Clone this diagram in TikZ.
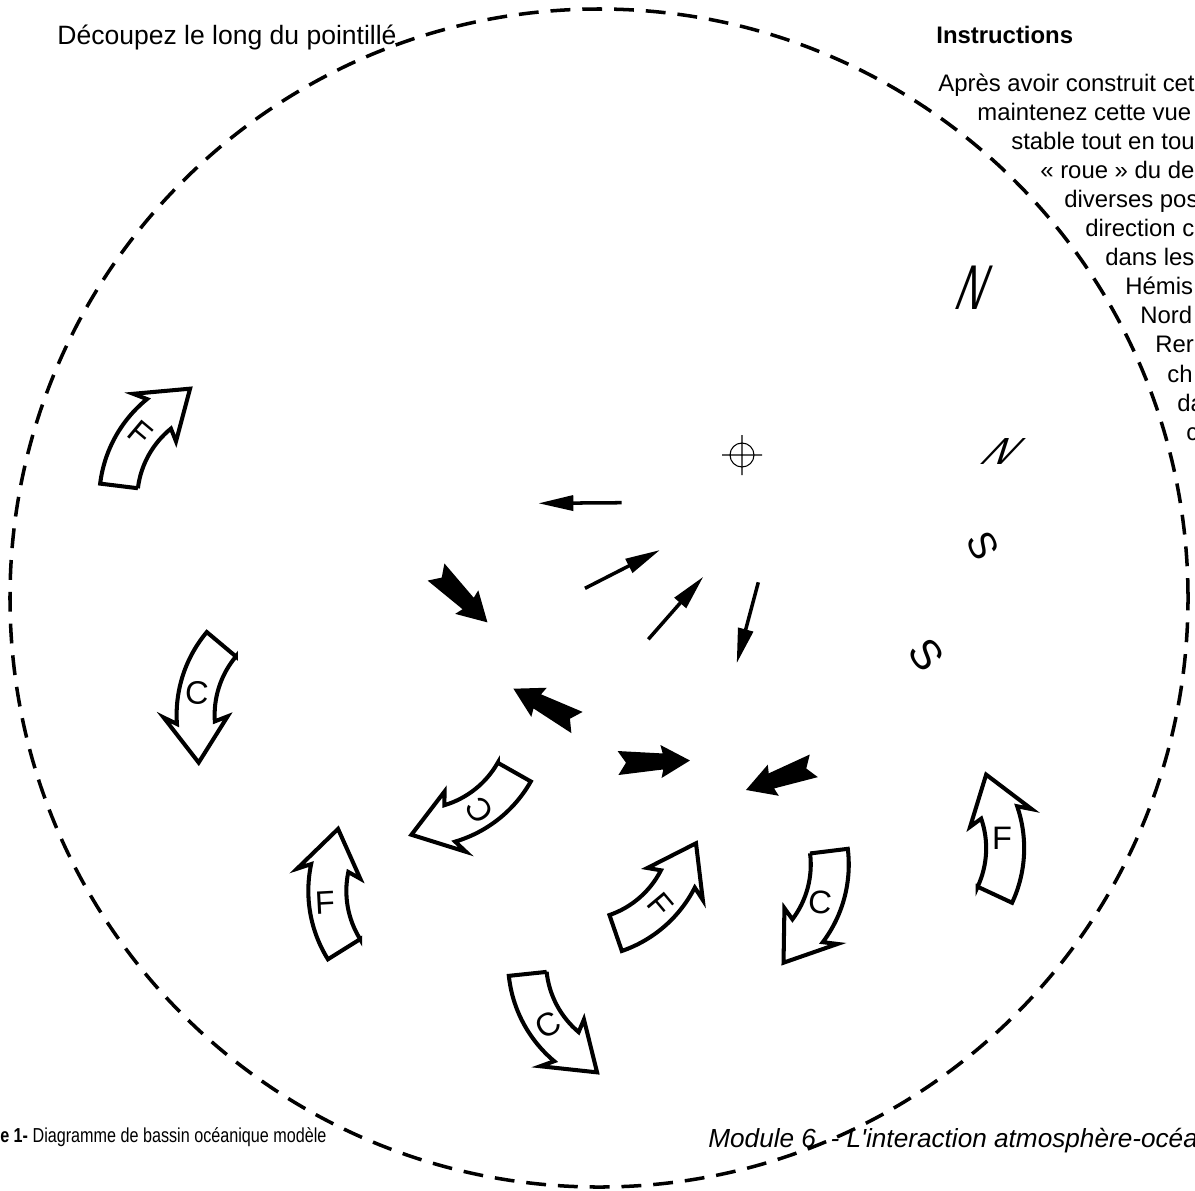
\documentclass[tikz,border=0pt]{standalone}
\usepackage{fontspec}
\setmainfont{Liberation Sans}
\usetikzlibrary{arrows.meta,calc}

\begin{document}
\begin{tikzpicture}[x=0.02cm, y=0.02cm,
cutline/.style={line width=2pt, dash pattern=on 11.3pt off 6.8pt},
bandline/.style={line width=2.3pt, fill=white, line join=miter},
windarrow/.style={line width=2pt, -{Triangle[length=0.7cm, width=0.3cm]}},
gyre/.style={font=\fontsize{18.5}{20}\selectfont, inner sep=0pt},
label/.style={anchor=base west, inner sep=0pt},
instr/.style={label, font=\fontsize{13.6}{16}\selectfont},
curvarrow/.pic={
  \begin{scope}[shift={(-110,0)}]
  \draw[bandline] (-22:91) -- (-22:129) arc[start angle=-22, end angle=22, radius=129]
    -- (19:142) -- ($(22:110)+(112:40)$) -- (19:78) -- (22:91)
    arc[start angle=22, end angle=-22, radius=91] -- cycle;
  \end{scope}},
dart/.pic={
  \fill (0,12) -- (8,0) -- (0,-12) -- (45,-8) -- (43,-16.5) -- (72,0) -- (43,16.5) -- (45,8) -- cycle;}
]
\useasboundingbox (0,0) rectangle (1195,-1190);

\draw[cutline] (599,-598) circle (589);

% texts
\node[label, font=\fontsize{15.1}{17}\selectfont] (cut) at (57,-44) {Découpez le long du pointillé};
\node[label, font=\bfseries\fontsize{13.6}{16}\selectfont] (title) at (936,-43) {Instructions};
\foreach \X/\Txt [count=\k from 0] in {938/Après avoir construit cet, 977/maintenez cette vue,
  1011/stable tout en tou, 1040/« roue » du de, 1064/diverses pos, 1085/direction c,
  1105/dans les, 1125/Hémis, 1140/Nord, 1155/Rer, 1167/ch, 1177/da, 1186/c}
  \node[instr] (line\k) at (\X,{-91-29.1*\k}) {\Txt};
\node[label, font=\fontsize{11.5}{13}\selectfont, xscale=0.8] (fig) at (0,-1142) {\textbf{e 1-} Diagramme de bassin océanique modèle};
\node[label, font=\itshape\fontsize{14.9}{17}\selectfont] (module) at (708,-1147) {Module 6 \ - L\textquotesingle interaction atmosphère-océa};

% centre mark
\coordinate (ctr) at (742,-455);
\draw[line width=0.6pt] (ctr) circle (12) (ctr) ++(-20,0) -- ++(40,0) (ctr) ++(0,-20) -- ++(0,40);

% compass letters
\node[font=\fontsize{36}{40}\selectfont, xslant=0.38, xscale=0.6] (n1) at (974,-288) {N};
\node[font=\fontsize{21.5}{24}\selectfont, xslant=0.95] (n2) at (1003,-451) {N};
\node[font=\fontsize{22}{24}\selectfont, rotate=-65] (s1) at (983,-546) {S};
\node[font=\fontsize{24}{26}\selectfont, rotate=-55] (s2) at (926,-655) {S};

% winds
\coordinate (wa0) at (621.7,-502.7); \coordinate (wa1) at (538.3,-503.3);
\coordinate (wb0) at (585,-588.3);   \coordinate (wb1) at (660,-550);
\coordinate (wc0) at (648.3,-639.3); \coordinate (wc1) at (703.3,-576.7);
\coordinate (wd0) at (758.3,-582.3); \coordinate (wd1) at (736.7,-663.3);
\draw[windarrow] (wa0) -- (wa1);
\draw[windarrow] (wb0) -- (wb1);
\draw[windarrow] (wc0) -- (wc1);
\draw[windarrow] (wd0) -- (wd1);
\path
  (436,-572) pic[rotate=-44.4] {dart}
  (577,-722.5) pic[rotate=152] {dart}
  (618,-763) pic[rotate=2] {dart}
  (813.8,-765.8) pic[rotate=199.6] {dart};

% currents
\path
  (132,-446) pic[rotate=-29, xscale=-1] {curvarrow}
  (201,-681) pic[rotate=162] {curvarrow}
  (487,-804) pic[rotate=128.5, xscale=-1] {curvarrow}
  (329,-910) pic[rotate=10, xscale=-1] {curvarrow}
  (652,-912) pic[rotate=-49] {curvarrow}
  (826,-893) pic[rotate=165, xscale=-1] {curvarrow}
  (540,-1014) pic[rotate=208] {curvarrow}
  (1005,-854) pic[rotate=-3] {curvarrow};
\node[gyre, rotate=-40] (f1) at (140,-433) {F};
\node[gyre, rotate=-3] (c1) at (197,-693) {C};
\node[gyre, rotate=125] (c2) at (480,-810) {C};
\node[gyre, rotate=3] (f2) at (325,-903) {F};
\node[gyre, rotate=-50] (f3) at (660,-905) {F};
\node[gyre, rotate=-5] (c3) at (820,-902) {C};
\node[gyre, rotate=30] (c4) at (548,-1025) {C};
\node[gyre] (f4) at (1002,-838) {F};
\end{tikzpicture}
\end{document}
